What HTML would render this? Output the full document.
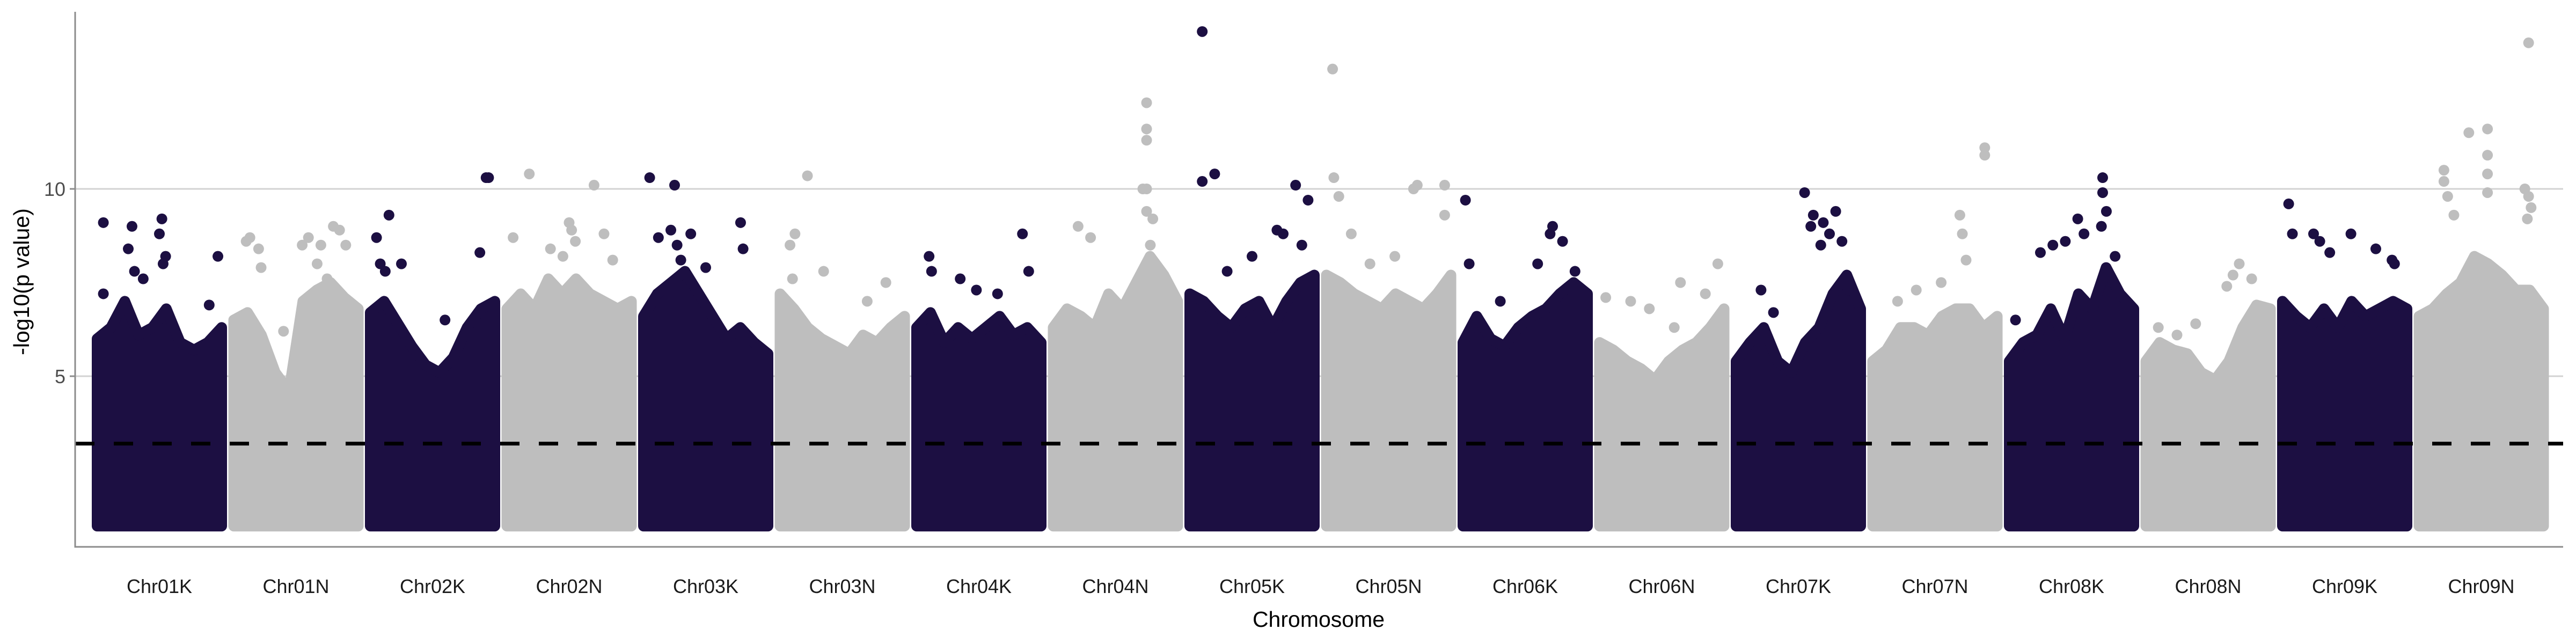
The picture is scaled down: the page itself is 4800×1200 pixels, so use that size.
<!DOCTYPE html>
<html><head><meta charset="utf-8">
<style>
html,body{margin:0;padding:0;background:#fff;}
svg{display:block;font-family:"Liberation Sans",sans-serif;}
</style></head>
<body>
<svg id="chart" width="4800" height="1200" viewBox="0 0 4800 1200" xmlns="http://www.w3.org/2000/svg">
  <g id="grid"></g>
  <g id="marks"></g>
  <g id="thresh"></g>
  <g id="axes"></g>
  <text x="0" y="0" transform="translate(54,525) rotate(-90)" text-anchor="middle" font-size="41" fill="#000">-log10(p value)</text>
  <text x="2457" y="1168" text-anchor="middle" font-size="41" fill="#000">Chromosome</text>
</svg>
<script>
const chromosomes = ["Chr01K","Chr01N","Chr02K","Chr02N","Chr03K","Chr03N","Chr04K","Chr04N","Chr05K","Chr05N","Chr06K","Chr06N","Chr07K","Chr07N","Chr08K","Chr08N","Chr09K","Chr09N"];
const yTicks = [5, 10];
const threshold = 3.2;
const minValue = 1;
// dense-band upper envelope per chromosome (10 bins)
const envelopes = [
 [6.0,6.3,7.0,6.1,6.3,6.8,5.9,5.7,5.9,6.3],
 [6.5,6.7,6.1,5.1,4.6,7.0,7.3,7.5,7.1,6.8],
 [6.7,7.0,6.4,5.8,5.3,5.1,5.5,6.3,6.8,7.0],
 [6.8,7.2,6.8,7.6,7.2,7.6,7.2,7.0,6.8,7.0],
 [6.6,7.2,7.5,7.8,7.2,6.6,6.0,6.3,5.9,5.6],
 [7.2,6.8,6.3,6.0,5.8,5.6,6.1,5.9,6.3,6.6],
 [6.3,6.7,5.9,6.3,6.0,6.3,6.6,6.1,6.3,5.9],
 [6.3,6.8,6.6,6.3,7.2,6.8,7.5,8.2,7.7,7.0],
 [7.2,7.0,6.6,6.3,6.8,7.0,6.3,7.0,7.5,7.7],
 [7.7,7.5,7.2,7.0,6.8,7.2,7.0,6.8,7.2,7.7],
 [5.9,6.6,6.0,5.8,6.3,6.6,6.8,7.2,7.5,7.2],
 [5.9,5.7,5.4,5.2,4.9,5.4,5.7,5.9,6.3,6.8],
 [5.4,5.9,6.3,5.4,5.1,5.9,6.3,7.2,7.7,6.8],
 [5.4,5.7,6.3,6.3,6.1,6.6,6.8,6.8,6.3,6.6],
 [5.4,5.9,6.1,6.8,6.0,7.2,6.8,7.9,7.2,6.8],
 [5.4,5.9,5.7,5.6,5.1,4.9,5.4,6.3,6.9,6.8],
 [7.0,6.6,6.3,6.8,6.3,7.0,6.6,6.8,7.0,6.8],
 [6.6,6.8,7.2,7.5,8.2,8.0,7.7,7.3,7.3,6.8]
];
// isolated high points: [fraction along chromosome, -log10 p]
const peaks = [
 [[0.05,9.1],[0.28,9.0],[0.25,8.4],[0.52,9.2],[0.5,8.8],[0.55,8.2],[0.97,8.2],[0.3,7.8],[0.37,7.6],[0.9,6.9],[0.53,8.0],[0.05,7.2]],
 [[0.1,8.6],[0.13,8.7],[0.2,8.4],[0.22,7.9],[0.55,8.5],[0.6,8.7],[0.7,8.5],[0.8,9.0],[0.85,8.9],[0.9,8.5],[0.4,6.2],[0.67,8.0],[0.75,7.6]],
 [[0.05,8.7],[0.15,9.3],[0.08,8.0],[0.25,8.0],[0.93,10.3],[0.95,10.3],[0.88,8.3],[0.6,6.5],[0.12,7.8]],
 [[0.05,8.7],[0.18,10.4],[0.35,8.4],[0.5,9.1],[0.52,8.9],[0.55,8.6],[0.7,10.1],[0.78,8.8],[0.85,8.1],[0.45,8.2]],
 [[0.05,10.3],[0.25,10.1],[0.22,8.9],[0.12,8.7],[0.38,8.8],[0.3,8.1],[0.78,9.1],[0.8,8.4],[0.5,7.9],[0.27,8.5]],
 [[0.08,8.5],[0.12,8.8],[0.22,10.35],[0.35,7.8],[0.7,7.0],[0.85,7.5],[0.1,7.6]],
 [[0.1,8.2],[0.12,7.8],[0.35,7.6],[0.48,7.3],[0.65,7.2],[0.85,8.8],[0.9,7.8]],
 [[0.2,9.0],[0.3,8.7],[0.75,12.3],[0.75,11.6],[0.75,11.3],[0.75,10.0],[0.72,10.0],[0.8,9.2],[0.78,8.5],[0.75,9.4]],
 [[0.1,14.2],[0.1,10.2],[0.2,10.4],[0.5,8.2],[0.7,8.9],[0.75,8.8],[0.85,10.1],[0.95,9.7],[0.9,8.5],[0.3,7.8]],
 [[0.05,13.2],[0.06,10.3],[0.1,9.8],[0.2,8.8],[0.35,8.0],[0.55,8.2],[0.7,10.0],[0.73,10.1],[0.95,10.1],[0.95,9.3]],
 [[0.02,9.7],[0.05,8.0],[0.3,7.0],[0.6,8.0],[0.7,8.8],[0.72,9.0],[0.8,8.6],[0.9,7.8]],
 [[0.05,7.1],[0.25,7.0],[0.4,6.8],[0.6,6.3],[0.65,7.5],[0.85,7.2],[0.95,8.0]],
 [[0.2,7.3],[0.3,6.7],[0.55,9.9],[0.6,9.0],[0.62,9.3],[0.7,9.1],[0.75,8.8],[0.8,9.4],[0.85,8.6],[0.9,7.3],[0.68,8.5]],
 [[0.2,7.0],[0.35,7.3],[0.55,7.5],[0.7,9.3],[0.72,8.8],[0.75,8.1],[0.9,11.1],[0.9,10.9]],
 [[0.05,6.5],[0.25,8.3],[0.35,8.5],[0.45,8.6],[0.55,9.2],[0.6,8.8],[0.75,10.3],[0.75,9.9],[0.78,9.4],[0.85,8.2],[0.74,9.0]],
 [[0.1,6.3],[0.25,6.1],[0.4,6.4],[0.65,7.4],[0.7,7.7],[0.75,8.0],[0.85,7.6]],
 [[0.05,9.6],[0.08,8.8],[0.25,8.8],[0.3,8.6],[0.38,8.3],[0.55,8.8],[0.75,8.4],[0.88,8.1],[0.9,8.0]],
 [[0.2,10.5],[0.2,10.2],[0.23,9.8],[0.28,9.3],[0.4,11.5],[0.55,11.6],[0.55,10.9],[0.55,10.4],[0.55,9.9],[0.85,10.0],[0.88,9.8],[0.87,9.2],[0.88,13.9],[0.9,9.5]]
];

const NS = "http://www.w3.org/2000/svg";
const plotL = 140, plotR = 4776, axisY = 1019;
const colors = ["#1c0f42", "#bebebe"];
const R = 10;
const firstCenter = 297, step = 254.5, halfW = 116;
function xCenter(i){ return firstCenter + i * step; }
function xPos(i, f){ return xCenter(i) - halfW + f * 2 * halfW; }
function yPos(v){ return 1050 - v * 69.8; }
function mk(tag, attrs, parent){
  const e = document.createElementNS(NS, tag);
  for (const k in attrs) e.setAttribute(k, attrs[k]);
  parent.appendChild(e);
  return e;
}
const grid = document.getElementById('grid');
const marks = document.getElementById('marks');
const thresh = document.getElementById('thresh');
const axes = document.getElementById('axes');

yTicks.forEach(t => {
  const l = mk('line', {x1: plotL, x2: plotR, y1: yPos(t), y2: yPos(t), stroke: '#d3d3d3', 'stroke-width': 3}, grid);
  
  
});

chromosomes.forEach((c, i) => {
  const col = colors[i % 2];
  const env = envelopes[i];
  const n = env.length;
  let pts = [];
  pts.push([xPos(i, 0), yPos(minValue)]);
  env.forEach((v, k) => {
    pts.push([xPos(i, k / (n - 1)), yPos(v)]);
  });
  pts.push([xPos(i, 1), yPos(minValue)]);
  const poly = mk('polygon', {points: pts.map(p => p.join(',')).join(' '), fill: col, stroke: col, 'stroke-width': 2 * R, 'stroke-linejoin': 'round'}, marks);
  
  
  peaks[i].forEach((p, k) => {
    const dot = mk('circle', {cx: xPos(i, p[0]), cy: yPos(p[1]), r: R, fill: col}, marks);
    
    
  });
  const lab = mk('text', {x: xCenter(i), y: 1105, 'text-anchor': 'middle', 'font-size': 36, fill: '#1a1a1a'}, axes);
  lab.textContent = c;
  
  
});

const th = mk('line', {x1: plotL, x2: plotR, y1: yPos(threshold), y2: yPos(threshold), stroke: '#000', 'stroke-width': 7, 'stroke-dasharray': '36 36'}, thresh);



const ya = mk('line', {x1: plotL, x2: plotL, y1: 22, y2: axisY, stroke: '#8c8c8c', 'stroke-width': 3}, axes);


const xa = mk('line', {x1: plotL - 1.5, x2: plotR, y1: axisY, y2: axisY, stroke: '#8c8c8c', 'stroke-width': 3}, axes);


yTicks.forEach(t => {
  const tk = mk('line', {x1: plotL - 10, x2: plotL, y1: yPos(t), y2: yPos(t), stroke: '#8c8c8c', 'stroke-width': 3}, axes);
  
  
  const tl = mk('text', {x: plotL - 18, y: yPos(t) + 13, 'text-anchor': 'end', 'font-size': 36, fill: '#4d4d4d'}, axes);
  tl.textContent = t;
  
  
});
</script>
</body></html>
